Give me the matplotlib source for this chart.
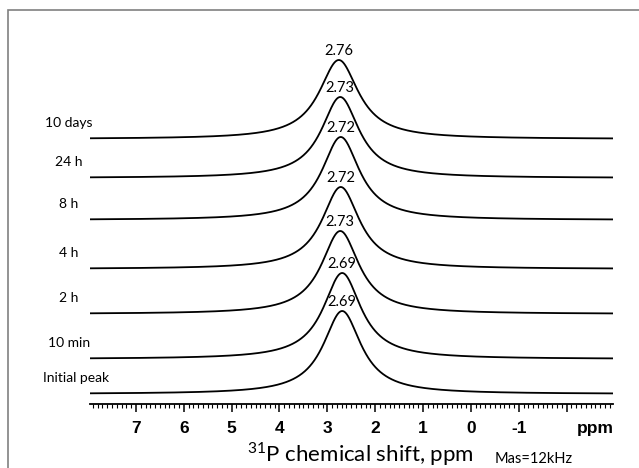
import numpy as np
import matplotlib
matplotlib.use("Agg")
from matplotlib import pyplot as plt
from matplotlib.patches import Rectangle
from matplotlib.ticker import MultipleLocator

# stacked 31P spectra, bottom to top
samples = ["Initial peak", "10 min", "2 h", "4 h", "8 h", "24 h", "10 days"]
shifts = [2.69, 2.69, 2.73, 2.72, 2.72, 2.73, 2.76]      # ppm
offsets = [10, 45, 90, 135, 184, 226, 265]               # stack offset (a.u.)
heights = [83, 86, 83, 82, 83, 81, 79]                   # peak intensity (a.u.)
hwhm = [0.48, 0.48, 0.48, 0.48, 0.48, 0.48, 0.5]         # half width, ppm

major_ticks = [7, 6, 5, 4, 3, 2, 1, 0, -1, -2]
tick_labels = ["7", "6", "5", "4", "3", "2", "1", "0", "-1", ""]

plt.rcParams['mathtext.fontset'] = 'custom'
plt.rcParams['mathtext.rm'] = 'Lato'

W, H = 639, 468
fig = plt.figure(figsize=(W / 100, H / 100), dpi=100)
ax = fig.add_axes([90 / W, (H - 404) / H, (613 - 90) / W, (404 - 20) / H])

ppm = np.linspace(7.96, -2.97, 2000)
for name, x0, off, h, w in zip(samples, shifts, offsets, heights, hwhm):
    y = off + h * w ** 2 / ((ppm - x0) ** 2 + w ** 2)
    ax.plot(ppm, y, color='black', lw=1.3)
    ax.text(x0, off + h + 2, f"{x0:.2f}", ha='center', va='bottom',
            fontsize=10.5, family='Lato')

ax.set_xlim(7.96, -2.97)
ax.set_ylim(0, 384)

# sample labels on the left
for name, off in zip(samples, offsets):
    yf = (H - 404 + off + 16) / H
    if name == "Initial peak":
        fig.text(43 / W, yf, name, ha='left', va='center', fontsize=10, family='Lato')
    else:
        fig.text(69 / W, yf, name, ha='center', va='center', fontsize=10, family='Lato')

# axis styling
for s in ['top', 'left', 'right']:
    ax.spines[s].set_visible(False)
ax.spines['bottom'].set_linewidth(1.3)
ax.set_yticks([])
ax.set_xticks(major_ticks)
ax.set_xticklabels(tick_labels)
ax.xaxis.set_minor_locator(MultipleLocator(0.1))
ax.tick_params(axis='x', which='major', direction='out', length=6, width=1.1, pad=6)
ax.tick_params(axis='x', which='minor', direction='out', length=3, width=0.8)
for lab in ax.get_xticklabels():
    lab.set_fontfamily('Liberation Sans')
    lab.set_fontweight('bold')
    lab.set_fontsize(12.5)
ax.text(-2.6, -25, "ppm", ha='center', va='center', fontsize=12.5,
        fontweight='bold', family='Liberation Sans', clip_on=False)
ax.patch.set_visible(False)

fig.text(360 / W, 1 - 454 / H, r"$^{\mathrm{31}}$P chemical shift, ppm",
         ha='center', va='center', fontsize=16, family='Lato')
fig.text(495 / W, 1 - 459 / H, "Mas=12kHz", ha='left', va='center',
         fontsize=10.5, family='Lato')

# outer frame
fig.add_artist(Rectangle((8 / W, -0.1), 1.0, 1.1 - 10.5 / H, transform=fig.transFigure,
                         fill=False, edgecolor='#808080', lw=1.2))

fig.savefig("out.png", dpi=100)
